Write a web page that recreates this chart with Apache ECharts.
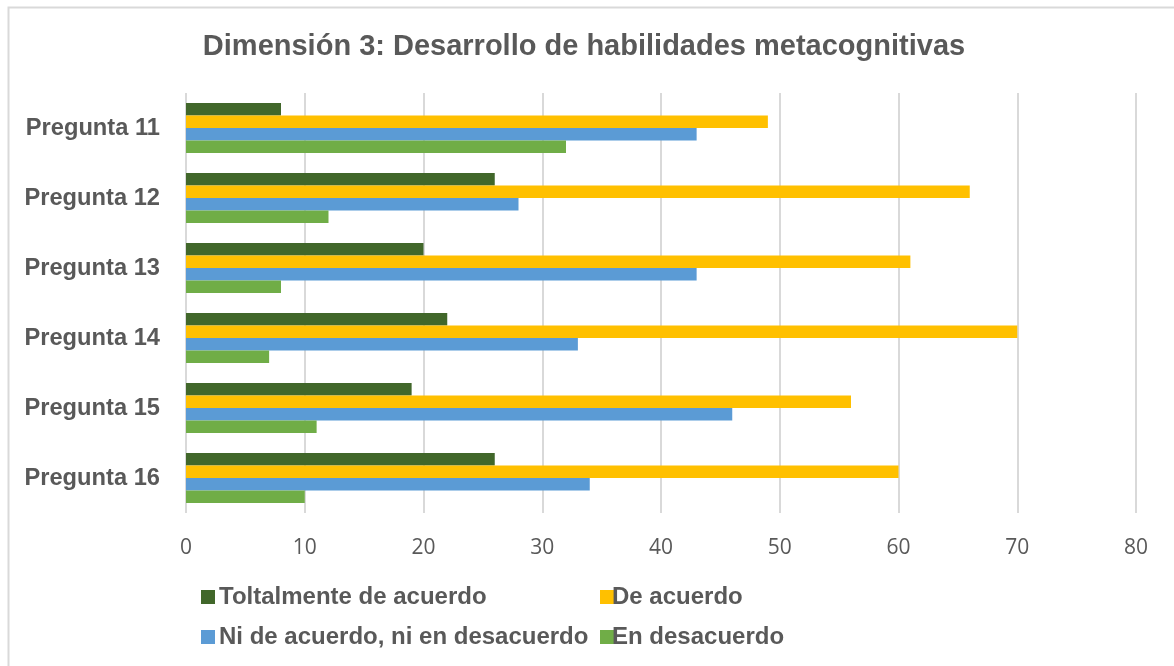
<!DOCTYPE html>
<html>
<head>
<meta charset="utf-8">
<script src="https://cdn.jsdelivr.net/npm/echarts@6/dist/echarts.min.js"></script>
<style>
  html, body { margin: 0; padding: 0; background: #fff; }
  #chart { width: 1174px; height: 666px; }
</style>
</head>
<body>
<div id="chart"></div>
<script>
// Dimensión 3 - horizontal grouped bars, one group per question
const categories = ["Pregunta 11", "Pregunta 12", "Pregunta 13", "Pregunta 14", "Pregunta 15", "Pregunta 16"];
const seriesNames = ["Toltalmente de acuerdo", "De acuerdo", "Ni de acuerdo, ni en desacuerdo", "En desacuerdo"];
const totalmente = [8, 26, 20, 22, 19, 26];
const deAcuerdo = [49, 66, 61, 70, 56, 60];
const neutral = [43, 28, 43, 33, 46, 34];
const desacuerdo = [32, 12, 8, 7, 11, 10];
const xTicks = [0, 10, 20, 30, 40, 50, 60, 70, 80];

const COLORS = ["#41672a", "#ffc000", "#5b9bd5", "#70ad47"];
const TEXT = "#595959";
const FONT = "'Liberation Sans', Arial, sans-serif";

const values = [totalmente, deAcuerdo, neutral, desacuerdo];

const legendPos = [
  { left: 201, top: 585, pad: 4 },
  { left: 600, top: 585, pad: -2 },
  { left: 201, top: 625, pad: 4 },
  { left: 600, top: 625, pad: -2 },
];

const chart = echarts.init(document.getElementById("chart"), null, { renderer: "canvas" });

chart.setOption({
  animation: false,
  backgroundColor: "#fff",
  color: COLORS,
  title: {
    text: "Dimensión 3: Desarrollo de habilidades metacognitivas",
    left: 579,
    textAlign: "center",
    top: 27,
    textStyle: { color: TEXT, fontFamily: FONT, fontWeight: "bold", fontSize: 29 },
  },
  graphic: [{
    type: "rect",
    shape: { x: 8.5, y: 7.5, width: 1300, height: 800 },
    style: { fill: "none", stroke: "#d9d9d9", lineWidth: 2 },
    silent: true,
  }],
  legend: seriesNames.map((name, i) => ({
    data: [name],
    left: legendPos[i].left,
    top: legendPos[i].top,
    padding: 0,
    itemWidth: 14,
    itemHeight: 14,
    icon: "rect",
    selectedMode: false,
    textStyle: {
      color: TEXT,
      fontFamily: FONT,
      fontWeight: "bold",
      fontSize: 24,
      padding: [0, 0, 0, legendPos[i].pad - 5],
    },
  })),
  grid: { left: 186, right: 38, top: 93, bottom: 153, containLabel: false },
  xAxis: {
    type: "value",
    min: xTicks[0],
    max: xTicks[xTicks.length - 1],
    interval: 10,
    axisLine: { show: false },
    axisTick: { show: false },
    axisLabel: { color: TEXT, fontFamily: "'Open Sans', sans-serif", fontSize: 21, margin: 25 },
    splitLine: { show: true, lineStyle: { color: "#d9d9d9", width: 2 } },
  },
  yAxis: {
    type: "category",
    data: categories,
    inverse: true,
    axisLine: { show: false },
    axisTick: { show: false },
    axisLabel: { color: TEXT, fontFamily: FONT, fontWeight: "bold", fontSize: 23.7, margin: 26 },
  },
  series: seriesNames.map((name, i) => ({
    name,
    type: "bar",
    data: values[i],
    barWidth: 12.5,
    barGap: "0%",
    itemStyle: { color: COLORS[i] },
  })),
});
</script>
</body>
</html>
